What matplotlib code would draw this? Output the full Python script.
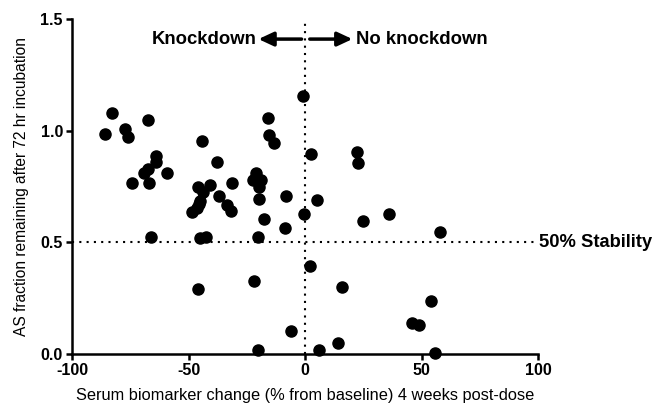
import matplotlib
matplotlib.use("Agg")
import matplotlib.pyplot as plt

plt.rcParams['font.family'] = ['Liberation Sans', 'DejaVu Sans']

# Data
biomarker_change = [
    -85.8, -82.7, -77.1, -75.8, -67.5, -74.4, -67.0, -69.1, -67.5, -64.1,
    -63.9, -59.1, -66.1, -44.3, -37.9, -46.1, -43.6, -40.8, -36.9, -45.1,
    -45.4, -46.5, -48.7, -33.3, -31.9, -31.2, -45.1, -42.6, -45.9, -16.0,
    -15.6, -13.2, -21.0, -22.4, -19.0, -19.9, -19.9, -17.6, -20.2, -21.9,
    -20.0, -8.2, -8.8, -0.4, -1.0, 2.6, 5.2, 2.1, -6.0, 6.0,
    22.2, 22.9, 25.0, 35.9, 57.9, 15.9, 54.0, 45.9, 48.9, 14.0,
    55.8,
]
fraction_remaining = [
    0.985, 1.079, 1.009, 0.972, 1.046, 0.767, 0.767, 0.809, 0.828, 0.861,
    0.887, 0.809, 0.525, 0.952, 0.861, 0.748, 0.727, 0.758, 0.706, 0.687,
    0.672, 0.652, 0.637, 0.667, 0.640, 0.766, 0.518, 0.523, 0.290, 1.055,
    0.981, 0.945, 0.809, 0.779, 0.779, 0.746, 0.693, 0.605, 0.523, 0.328,
    0.018, 0.709, 0.564, 0.628, 1.155, 0.896, 0.690, 0.394, 0.103, 0.016,
    0.906, 0.857, 0.594, 0.627, 0.548, 0.299, 0.239, 0.140, 0.130, 0.051,
    0.006,
]
x_ticks = [-100, -50, 0, 50, 100]
y_ticks = [0.0, 0.5, 1.0, 1.5]
y_tick_labels = ["0.0", "0.5", "1.0", "1.5"]
stability_threshold = 0.5

fig = plt.figure(figsize=(6.54, 4.04), dpi=100)
ax = fig.add_axes([0.110, 0.124, 0.713, 0.829])

ax.set_xlim(-100, 100)
ax.set_ylim(0, 1.5)

dot = (0, (1, 2.5))
ax.axhline(stability_threshold, color='black', lw=1.5, linestyle=dot, zorder=1)
ax.axvline(0, color='black', lw=1.5, linestyle=dot, zorder=1)

ax.plot(biomarker_change, fraction_remaining, 'o', color='black', ms=8,
        clip_on=False, zorder=5, linestyle='none')

for side in ['top', 'right']:
    ax.spines[side].set_visible(False)
for side in ['left', 'bottom']:
    ax.spines[side].set_linewidth(1.8)

ax.set_xticks(x_ticks)
ax.set_xticklabels([str(t) for t in x_ticks])
ax.set_yticks(y_ticks)
ax.set_yticklabels(y_tick_labels)
ax.tick_params(axis='both', direction='out', length=4.5, width=1.8,
               labelsize=11.5, pad=2)
for lab in ax.get_xticklabels() + ax.get_yticklabels():
    lab.set_fontweight('bold')

ax.set_xlabel("Serum biomarker change (% from baseline) 4 weeks post-dose",
              fontsize=11.8, labelpad=7)
ax.set_ylabel("AS fraction remaining after 72 hr incubation",
              fontsize=11.2, labelpad=8)

# Annotations
arrow_y = 1.41
arrow_style = '-|>,head_length=0.9,head_width=0.42'
ax.annotate("", xy=(-20.0, arrow_y), xytext=(-1.5, arrow_y),
            arrowprops=dict(arrowstyle=arrow_style,
                            color='black', lw=2.5, shrinkA=0, shrinkB=0))
ax.annotate("", xy=(20.3, arrow_y), xytext=(2.0, arrow_y),
            arrowprops=dict(arrowstyle=arrow_style,
                            color='black', lw=2.5, shrinkA=0, shrinkB=0))
ax.text(-20.8, arrow_y, "Knockdown", ha='right', va='center',
        fontsize=13.3, fontweight='bold')
ax.text(21.8, arrow_y, "No knockdown", ha='left', va='center',
        fontsize=13.3, fontweight='bold')
ax.text(100.3, stability_threshold, "50% Stability", ha='left', va='center',
        fontsize=13.2, fontweight='bold', clip_on=False)

fig.savefig("out.png", dpi=100)
